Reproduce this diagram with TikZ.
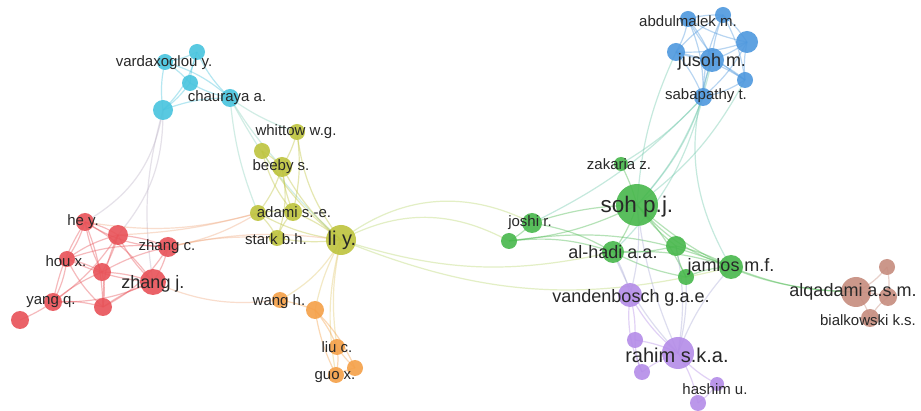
\documentclass[tikz,border=0pt]{standalone}
\usepackage{fontspec}
\setmainfont{Liberation Sans}
\definecolor{cR}{RGB}{232,82,88}
\definecolor{cC}{RGB}{72,196,222}
\definecolor{cY}{RGB}{190,196,62}
\definecolor{cO}{RGB}{245,160,72}
\definecolor{cG}{RGB}{72,184,76}
\definecolor{cB}{RGB}{78,152,222}
\definecolor{cP}{RGB}{180,140,232}
\definecolor{cW}{RGB}{198,140,126}
\definecolor{eRY}{RGB}{240,170,130}
\definecolor{eYG}{RGB}{185,215,110}
\definecolor{eGB}{RGB}{110,200,170}
\definecolor{eCR}{RGB}{190,180,200}
\definecolor{eCY}{RGB}{140,210,190}
\definecolor{eGP}{RGB}{170,170,215}
\definecolor{eYO}{RGB}{225,200,110}
\definecolor{txt}{RGB}{40,40,40}
\tikzset{
  dot/.style={circle, inner sep=0pt, minimum size=#1, fill opacity=0.9, draw=none},
  lbl/.style={font=\fontsize{15}{15}\selectfont, text=txt, inner sep=0pt, anchor=center},
  lblbig/.style={font=\fontsize{18}{18}\selectfont, text=txt, inner sep=0pt, anchor=center},
  lblhuge/.style={font=\fontsize{20}{20}\selectfont, text=txt, inner sep=0pt, anchor=center},
  lblmax/.style={font=\fontsize{22.5}{22.5}\selectfont, text=txt, inner sep=0pt, anchor=center},
  edge/.style={line width=1.2pt, draw opacity=0.4},
}
\begin{document}
\begin{tikzpicture}[x=1pt,y=-1pt]
\useasboundingbox[fill=white] (0,0) rectangle (921,411);
% ---------- coordinates of nodes ----------
% cyan
\coordinate (c1) at (197,52);
\coordinate (c2) at (165,62);
\coordinate (c3) at (190,83);
\coordinate (c4) at (163,110);
\coordinate (c5) at (230,98);
% yellow
\coordinate (y1) at (297,132);
\coordinate (y2) at (262,151);
\coordinate (y3) at (282,167);
\coordinate (y4) at (258,213);
\coordinate (y5) at (293,212);
\coordinate (y6) at (277,238);
\coordinate (li) at (341,240);
% orange
\coordinate (o1) at (280,300);
\coordinate (o2) at (315,310);
\coordinate (o3) at (337,347);
\coordinate (o4) at (355,368);
\coordinate (o5) at (336,375);
% red
\coordinate (r1) at (85,222);
\coordinate (r2) at (118,235);
\coordinate (r3) at (168,247);
\coordinate (r4) at (67,259);
\coordinate (r5) at (102,272);
\coordinate (r6) at (153,282);
\coordinate (r7) at (53,302);
\coordinate (r8) at (103,307);
\coordinate (r9) at (20,320);
% green
\coordinate (g1) at (621,164);
\coordinate (g2) at (637,205);
\coordinate (g3) at (532,223);
\coordinate (g4) at (509,241);
\coordinate (g5) at (613,252);
\coordinate (g6) at (676,246);
\coordinate (g7) at (731,267);
\coordinate (g8) at (686,277);
% blue
\coordinate (b1) at (688,19);
\coordinate (b2) at (723,15);
\coordinate (b3) at (747,42);
\coordinate (b4) at (676,52);
\coordinate (b5) at (712,60);
\coordinate (b6) at (745,80);
\coordinate (b7) at (703,97);
% purple
\coordinate (p1) at (630,295);
\coordinate (p2) at (635,340);
\coordinate (p3) at (678,353);
\coordinate (p4) at (642,372);
\coordinate (p5) at (717,384);
\coordinate (p6) at (698,403);
% brown
\coordinate (w1) at (856,292);
\coordinate (w2) at (887,267);
\coordinate (w3) at (888,297);
\coordinate (w4) at (870,318);
% ---------- edges ----------
\foreach \a/\b/\c/\k in {
  c1/c2/cC/8, c1/c3/cC/-8, c2/c3/cC/8, c2/c4/cC/-10, c3/c4/cC/8, c4/c5/cC/10, c3/c5/cC/-8,
  c1/c5/cC/-10, c2/c5/cC/12, c1/c4/cC/15,
  c4/r2/eCR/20, c4/r1/eCR/25, c4/r6/eCR/-12,
  c5/y4/eCY/-8, c5/li/eCY/-10, c5/y1/eCY/-8, c5/y3/eCY/-5,
  y1/y3/cY/8, y1/li/cY/-15, y1/y5/cY/10, y2/y3/cY/8, y2/li/cY/-10, y3/y4/cY/10,
  y3/y5/cY/-8, y3/li/cY/-10, y3/y6/cY/15, y4/y5/cY/8, y4/li/cY/-10, y5/li/cY/8,
  y6/li/cY/-8, y4/y6/cY/10, y5/y6/cY/-10, y2/y5/cY/-12,
  li/o1/eYO/15, li/o2/eYO/-8, li/o3/eYO/-10, li/o5/eYO/-12,
  li/g3/eYG/32, li/g4/eYG/28, li/g5/eYG/-15, li/g7/eYG/-18,
  r3/y4/eRY/-10, r3/y6/eRY/8, r3/li/eRY/10, r1/y4/eRY/-12, r6/o1/eRY/-15, r2/y4/eRY/-6,
  o1/o2/cO/5, o2/o3/cO/8, o2/o5/cO/-8, o3/o5/cO/10, o3/o4/cO/-6, o2/o4/cO/10, o5/o4/cO/8,
  r1/r2/cR/10, r1/r3/cR/-15, r1/r4/cR/8, r1/r5/cR/-8, r1/r6/cR/12, r1/r7/cR/-10, r1/r8/cR/10,
  r2/r3/cR/8, r2/r4/cR/-10, r2/r5/cR/8, r2/r6/cR/-10, r2/r7/cR/10, r2/r8/cR/-12,
  r3/r6/cR/10, r3/r5/cR/-8, r3/r8/cR/15, r3/r4/cR/-12, r4/r5/cR/8, r4/r6/cR/-10,
  r4/r7/cR/10, r4/r8/cR/-10, r5/r6/cR/8, r5/r7/cR/-8, r5/r8/cR/10, r6/r7/cR/12,
  r6/r8/cR/-8, r7/r8/cR/10, r7/r9/cR/5,
  g1/g2/cG/5, g2/g3/cG/-8, g2/g4/cG/10, g2/g5/cG/8, g2/g6/cG/-8, g2/g7/cG/-15, g2/g8/cG/8,
  g3/g4/cG/8, g5/g6/cG/-8, g5/g7/cG/10, g5/g8/cG/-8, g6/g7/cG/8, g6/g8/cG/-10, g8/g7/cG/10,
  g3/g5/cG/10, g4/g5/cG/12, g4/g7/cG/15,
  g2/b7/eGB/-10, g2/b5/eGB/-15, g2/b4/eGB/10, g2/b6/eGB/-12, g1/b7/eGB/-8, g5/b7/eGB/-15,
  g7/b5/eGB/25, g3/b7/eGB/-10,
  g2/p1/eGP/10, g2/p3/eGP/-8, g5/p3/eGP/-10, g5/p1/eGP/8, g6/p3/eGP/10, g7/p3/eGP/-10,
  g8/p3/eGP/8,
  g7/w1/cG/-10, g2/w1/cG/-20,
  p1/p3/cP/-10, p1/p2/cP/8, p2/p3/cP/8, p3/p4/cP/-8, p3/p5/cP/-10, p3/p6/cP/10,
  p5/p6/cP/8, p4/p2/cP/10, p1/p4/cP/-15,
  b1/b2/cB/8, b1/b3/cB/-10, b1/b4/cB/10, b1/b5/cB/8, b1/b6/cB/-15, b1/b7/cB/12,
  b2/b3/cB/8, b2/b4/cB/-10, b2/b5/cB/-8, b2/b6/cB/10, b2/b7/cB/-12, b3/b4/cB/10,
  b3/b5/cB/8, b3/b6/cB/-8, b3/b7/cB/10, b4/b5/cB/-8, b4/b6/cB/10, b4/b7/cB/8,
  b5/b6/cB/8, b5/b7/cB/-8, b6/b7/cB/10,
  w1/w2/cW/-12, w1/w3/cW/8, w1/w4/cW/10, w2/w3/cW/10, w3/w4/cW/-10}
  {\draw[edge, draw=\c] (\a) to[bend left=\k] (\b);}
% ---------- dots ----------
\foreach \n/\s/\c in {
  c1/16/cC, c2/16/cC, c3/16/cC, c4/20/cC, c5/18/cC,
  y1/16/cY, y2/16/cY, y3/20/cY, y4/16/cY, y5/18/cY, y6/16/cY, li/30/cY,
  o1/16/cO, o2/18/cO, o3/16/cO, o4/16/cO, o5/16/cO,
  r1/18/cR, r2/20/cR, r3/20/cR, r4/16/cR, r5/18/cR, r6/26/cR, r7/18/cR, r8/18/cR, r9/18/cR,
  g1/14/cG, g2/42/cG, g3/20/cG, g4/16/cG, g5/22/cG, g6/20/cG, g7/24/cG, g8/16/cG,
  b1/16/cB, b2/16/cB, b3/22/cB, b4/18/cB, b5/24/cB, b6/16/cB, b7/18/cB,
  p1/24/cP, p2/16/cP, p3/32/cP, p4/16/cP, p5/14/cP, p6/16/cP,
  w1/30/cW, w2/16/cW, w3/18/cW, w4/18/cW}
  {\node[dot=\s pt, fill=\c] (d\n) at (\n) {};}
% ---------- labels ----------
\node[lbl] (lc2) at (164,63) {vardaxoglou y.};
\node[lbl] (lc5) at (227,98) {chauraya a.};
\node[lbl] (ly1) at (296,132) {whittow w.g.};
\node[lbl] (ly3) at (281,167) {beeby s.};
\node[lbl] (ly5) at (294,212) {adami s.-e.};
\node[lbl] (ly6) at (276,239) {stark b.h.};
\node[lblhuge] (lli) at (342,240) {li y.};
\node[lbl] (lo1) at (279,302) {wang h.};
\node[lbl] (lo3) at (337,347) {liu c.};
\node[lbl] (lo5) at (335,377) {guo x.};
\node[lbl] (lr1) at (83,222) {he y.};
\node[lbl] (lr3) at (167,247) {zhang c.};
\node[lbl] (lr4) at (66,261) {hou x.};
\node[lblbig] (lr6) at (153,284) {zhang j.};
\node[lbl] (lr7) at (51,302) {yang q.};
\node[lbl] (lg1) at (619,164) {zakaria z.};
\node[lblmax] (lg2) at (637,207) {soh p.j.};
\node[lbl] (lg3) at (530,223) {joshi r.};
\node[lblbig] (lg5) at (613,252) {al-hadi a.a.};
\node[lblbig] (lg7) at (731,267) {jamlos m.f.};
\node[lbl] (lb1) at (688,21) {abdulmalek m.};
\node[lblbig] (lb5) at (712,62) {jusoh m.};
\node[lbl] (lb7) at (706,96) {sabapathy t.};
\node[lblbig] (lp1) at (631,298) {vandenbosch g.a.e.};
\node[lblhuge] (lp3) at (677,355) {rahim s.k.a.};
\node[lbl] (lp5) at (715,389) {hashim u.};
\node[lblbig] (lw1) at (853,292) {alqadami a.s.m.};
\node[lbl] (lw4) at (868,320) {bialkowski k.s.};
\end{tikzpicture}
\end{document}
